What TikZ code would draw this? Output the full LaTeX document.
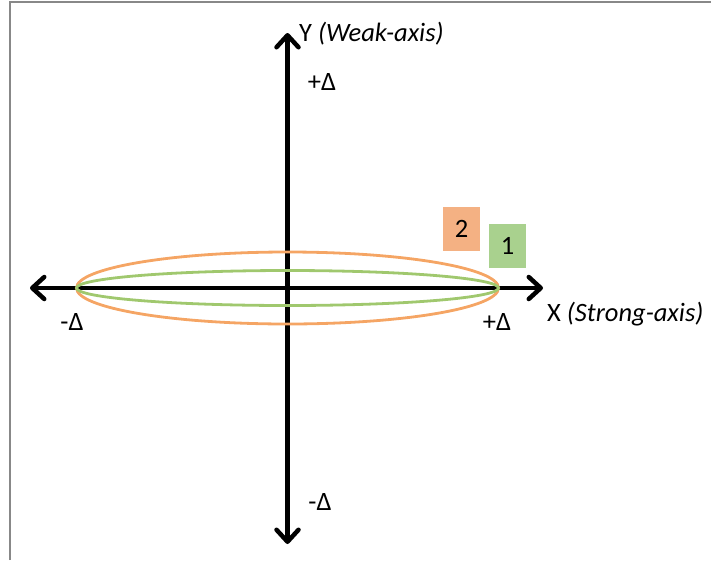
\documentclass[tikz,border=0pt]{standalone}
\usepackage{fontspec}
\setmainfont{Carlito}
\usetikzlibrary{arrows.meta,shapes.geometric}
\definecolor{orfill}{RGB}{244,177,131}
\definecolor{orline}{RGB}{245,165,100}
\definecolor{grfill}{RGB}{169,209,142}
\definecolor{grline}{RGB}{160,200,110}
\definecolor{frame}{RGB}{136,136,136}
\begin{document}
\begin{tikzpicture}[x=1pt,y=-1pt,
  axis/.style={line width=4.5pt,{Straight Barb[length=12pt,width=22pt,line cap=round,line join=round]}-{Straight Barb[length=12pt,width=22pt,line cap=round,line join=round]}},
  lbl/.style={font=\fontsize{26.5}{30}\selectfont, inner sep=0pt},
  numbox/.style={minimum width=37pt, minimum height=44pt, inner sep=0pt, font=\fontsize{26.5}{30}\selectfont},
  ell/.style={ellipse, draw, line width=2.8pt, inner sep=0pt, minimum width=422pt}]
\useasboundingbox (0,0) rectangle (711,560);
\draw[frame, line width=2.5pt] (10,560) -- (10,2) -- (711,2);
\coordinate (O) at (287.5,288);
\coordinate (L) at (30,288);
\coordinate (R) at (543,288);
\coordinate (T) at (287.5,33);
\coordinate (B) at (287.5,544);
\draw[axis] (L) -- (R);
\draw[axis] (B) -- (T);
\node[ell, draw=orline, minimum height=72pt] (e2) at (O) {};
\node[ell, draw=grline, minimum height=35pt] (e1) at (O) {};
\node[numbox, fill=orfill] (b2) at (461.5,229) {2};
\node[numbox, fill=grfill] (b1) at (507.5,246) {1};
\node[lbl, anchor=west] (ylab) at (299,34) {Y \textit{(Weak-axis)}};
\node[lbl, anchor=west] (xlab) at (547,314) {X \textit{(Strong-axis)}};
\node[lbl] (yp) at (322,82) {+Δ};
\node[lbl] (ym) at (320,502) {-Δ};
\node[lbl] (xm) at (72,322) {-Δ};
\node[lbl] (xp) at (497,322) {+Δ};
\end{tikzpicture}
\end{document}
